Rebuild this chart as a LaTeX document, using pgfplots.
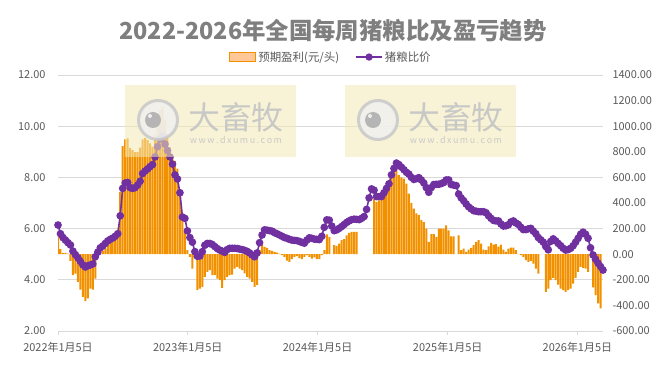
\documentclass[border=0pt]{standalone}
\usepackage{fontspec}
\setmainfont{Noto Sans CJK SC}
\usepackage{pgfplots}
\pgfplotsset{compat=1.18}
\usepackage{pgfplotstable}
\definecolor{barorange}{RGB}{242,145,0}
\definecolor{peach}{RGB}{255,200,150}
\definecolor{ratiopurple}{RGB}{112,48,160}
\definecolor{gridgray}{RGB}{217,217,217}
\definecolor{ticktext}{RGB}{89,89,89}
\definecolor{titlegray}{RGB}{127,127,127}
\definecolor{wmyellow}{RGB}{243,234,180}
\definecolor{wmring}{RGB}{200,200,200}
\definecolor{wmface}{RGB}{240,240,240}
\definecolor{wmpupil}{RGB}{175,175,175}
\definecolor{wmtext}{RGB}{196,196,196}

\pgfplotstableread{
w r
0 6.14
1 5.80
2 5.65
3 5.55
4 5.45
5 5.36
6 5.12
7 4.98
8 4.86
9 4.72
10 4.58
11 4.50
12 4.55
13 4.58
14 4.62
15 4.90
16 5.08
17 5.25
18 5.32
19 5.42
20 5.52
21 5.58
22 5.63
23 5.70
24 5.80
25 6.50
26 7.57
27 7.78
28 7.80
29 7.60
30 7.57
31 7.60
32 7.70
33 7.85
34 8.15
35 8.25
36 8.33
37 8.42
38 8.50
39 8.80
40 9.20
41 9.50
42 9.62
43 9.30
44 9.05
45 8.80
46 8.52
47 8.10
48 7.94
49 7.40
50 6.45
51 6.40
52 5.91
53 5.65
54 5.47
55 5.10
56 4.92
57 4.93
58 5.10
59 5.35
60 5.42
61 5.42
62 5.38
63 5.30
64 5.22
65 5.16
66 5.12
67 5.07
68 5.18
69 5.23
70 5.23
71 5.23
72 5.22
73 5.20
74 5.18
75 5.15
76 5.11
77 5.05
78 4.97
79 4.90
80 5.05
81 5.45
82 5.75
83 5.95
84 5.94
85 5.92
86 5.90
87 5.84
88 5.80
89 5.75
90 5.70
91 5.65
92 5.62
93 5.58
94 5.55
95 5.54
96 5.53
97 5.50
98 5.46
99 5.43
100 5.55
101 5.64
102 5.62
103 5.59
104 5.58
105 5.57
106 5.70
107 6.05
108 6.34
109 6.33
110 6.10
111 5.92
112 5.95
113 6.01
114 6.08
115 6.16
116 6.24
117 6.30
118 6.35
119 6.37
120 6.36
121 6.35
122 6.40
123 6.47
124 6.75
125 7.20
126 7.55
127 7.50
128 7.25
129 7.25
130 7.25
131 7.40
132 7.57
133 7.75
134 8.10
135 8.35
136 8.56
137 8.50
138 8.40
139 8.30
140 8.20
141 8.13
142 8.00
143 7.92
144 7.95
145 7.99
146 7.90
147 7.78
148 7.60
149 7.42
150 7.60
151 7.72
152 7.73
153 7.73
154 7.76
155 7.80
156 7.90
157 7.90
158 7.72
159 7.70
160 7.68
161 7.35
162 7.20
163 7.09
164 6.96
165 6.85
166 6.77
167 6.70
168 6.68
169 6.66
170 6.66
171 6.66
172 6.62
173 6.50
174 6.40
175 6.32
176 6.30
177 6.30
178 6.18
179 6.10
180 6.11
181 6.15
182 6.26
183 6.30
184 6.22
185 6.16
186 6.05
187 5.96
188 5.96
189 5.99
190 6.01
191 5.90
192 5.80
193 5.65
194 5.56
195 5.47
196 5.30
197 5.17
198 5.50
199 5.60
200 5.52
201 5.42
202 5.33
203 5.23
204 5.16
205 5.18
206 5.23
207 5.33
208 5.47
209 5.62
210 5.78
211 5.86
212 5.78
213 5.62
214 5.25
215 4.97
216 4.80
217 4.65
218 4.52
219 4.38
}\ratiodata

\pgfplotstableread{
w p
0 135
1 39
2 10
3 10
4 5
5 -52
6 -164
7 -151
8 -216
9 -276
10 -333
11 -367
12 -346
13 -268
14 -276
15 -190
16 -21
17 5
18 26
19 44
20 70
21 88
22 96
23 122
24 148
25 487
26 844
27 898
28 904
29 831
30 813
31 797
32 797
33 833
34 898
35 906
36 891
37 865
38 839
39 930
40 1034
41 1125
42 1151
43 1047
44 938
45 833
46 760
47 729
48 669
49 487
50 318
51 174
52 31
53 -21
54 -112
55 -30
56 -281
57 -268
58 -255
59 -177
60 -138
61 -125
62 -164
63 -164
64 -190
65 -203
66 -263
67 -203
68 -177
69 -164
70 -160
71 -112
72 -99
73 -112
74 -125
75 -150
76 -177
77 -190
78 -216
79 -255
80 -240
81 31
82 78
83 57
84 49
85 31
86 25
87 18
88 13
89 5
90 -8
91 -21
92 -50
93 -60
94 -39
95 -21
96 -16
97 -30
98 -39
99 -20
100 -8
101 -20
102 -34
103 -25
104 -39
105 -39
106 -8
107 31
108 154
109 135
111 70
112 65
113 83
114 109
115 117
116 148
117 167
118 174
119 174
120 174
127 430
128 409
129 420
130 435
131 487
132 526
133 560
134 600
135 669
136 682
137 617
138 600
139 591
140 552
141 474
142 400
143 357
144 318
145 305
146 266
147 250
148 200
149 96
150 156
151 156
152 135
153 200
154 200
155 200
156 226
157 187
158 140
159 140
161 148
162 31
163 44
164 18
165 36
166 50
167 70
168 96
169 109
170 83
171 36
172 31
173 62
174 88
175 75
176 78
177 60
178 75
179 36
180 18
181 44
182 52
183 52
184 31
185 3
186 -8
187 -21
188 -47
189 -60
190 -52
191 -73
192 -112
193 -151
196 -294
197 -268
198 -203
199 -185
200 -203
201 -237
202 -268
203 -281
204 -294
205 -281
206 -268
207 -229
208 -185
209 -138
210 -99
211 -107
212 -112
213 -138
215 -260
216 -320
217 -385
218 -424
}\profitdata

\begin{document}
\begin{tikzpicture}
\useasboundingbox (-58bp,-49bp) rectangle (607bp,331bp);

% grid, left axis, x axis
\begin{axis}[
  at={(0,0)}, anchor=south west,
  scale only axis, width=545bp, height=256bp,
  xmin=0, xmax=219, ymin=2, ymax=12,
  axis lines*=left,
  y axis line style={draw=none},
  x axis line style={draw=gridgray, line width=0.75bp},
  xtick={0,52.14,104.29,156.57,208.71},
  xticklabels={2022年1月5日,2023年1月5日,2024年1月5日,2025年1月5日,2026年1月5日},
  xtick style={draw=gridgray, line width=0.75bp},
  major tick length=4bp,
  tick align=outside,
  ytick={2,4,...,12},
  ytick style={draw=none},
  ymajorgrids,
  grid style={draw=gridgray, line width=0.75bp},
  /pgf/number format/fixed,
  /pgf/number format/fixed zerofill,
  /pgf/number format/precision=2,
  /pgf/number format/assume math mode=true,
  ticklabel style={font=\fontsize{11}{13}\selectfont, text=ticktext},
  yticklabel style={xshift=-5bp},
  xticklabel style={yshift=-4bp},
]
\end{axis}

% bars, right axis
\begin{axis}[
  at={(0,0)}, anchor=south west,
  scale only axis, width=545bp, height=256bp,
  xmin=0, xmax=219, ymin=-600, ymax=1400,
  axis y line*=right, axis x line=none,
  y axis line style={draw=none},
  ytick={-600,-400,...,1400},
  ytick style={draw=none},
  /pgf/number format/fixed,
  /pgf/number format/fixed zerofill,
  /pgf/number format/precision=2,
  /pgf/number format/1000 sep={},
  /pgf/number format/assume math mode=true,
  ticklabel style={font=\fontsize{11}{13}\selectfont, text=ticktext},
  yticklabel style={xshift=6bp},
]
\addplot[ybar, bar width=2bp, fill=barorange, draw=none] table[x=w,y=p] {\profitdata};
\end{axis}

% ratio line
\begin{axis}[
  at={(0,0)}, anchor=south west,
  scale only axis, width=545bp, height=256bp,
  xmin=0, xmax=219, ymin=2, ymax=12,
  hide axis, clip=false,
  legend columns=2,
  legend style={draw=none, fill=none, at={(0.501,1.07)}, anchor=center,
    font=\fontsize{11.5}{13}\selectfont, text=ticktext,
    /tikz/every even column/.append style={column sep=14bp}},
]
\addlegendimage{legend image code/.code={\draw[fill=peach, draw=barorange, line width=0.9bp] (0bp,-4.5bp) rectangle (26bp,4.5bp);}}
\addlegendentry{预期盈利(元/头)}
\addplot[color=ratiopurple, line width=1.6bp, mark=*, mark size=3bp,
  mark options={solid, fill=ratiopurple},
  legend image code/.code={\draw[ratiopurple, line width=1.6bp] (0bp,0bp) -- (26bp,0bp); \fill[ratiopurple] (13bp,0bp) circle (2.8bp);}]
  table[x=w,y=r] {\ratiodata};
\addlegendentry{猪粮比价}
\end{axis}

% title
\node[font=\bfseries\fontsize{23.5}{26}\selectfont, text=titlegray] at (275bp,300bp) {2022-2026年全国每周猪粮比及盈亏趋势};

% watermarks
\foreach \ox in {0,220}{
  \begin{scope}[xshift=\ox bp]
  \fill[wmyellow, opacity=0.55] (67bp,174bp) rectangle (238bp,246bp);
  \draw[line width=3bp, draw=wmring, fill=wmface, opacity=0.85] (100bp,211bp) circle (19.5bp);
  \fill[wmpupil, opacity=0.9] (95bp,211bp) circle (8bp);
  \fill[white, opacity=0.8] (92bp,215bp) circle (2bp);
  \node[text=wmtext, opacity=0.9, font=\fontsize{32}{34}\selectfont] at (178bp,214bp) {大畜牧};
  \node[text=wmtext, opacity=0.9, font=\fontsize{9}{10}\selectfont] at (178bp,191bp) {w\,w\,w\,.\,d\,x\,u\,m\,u\,.\,c\,o\,m};
  \end{scope}
}
\end{tikzpicture}
\end{document}
